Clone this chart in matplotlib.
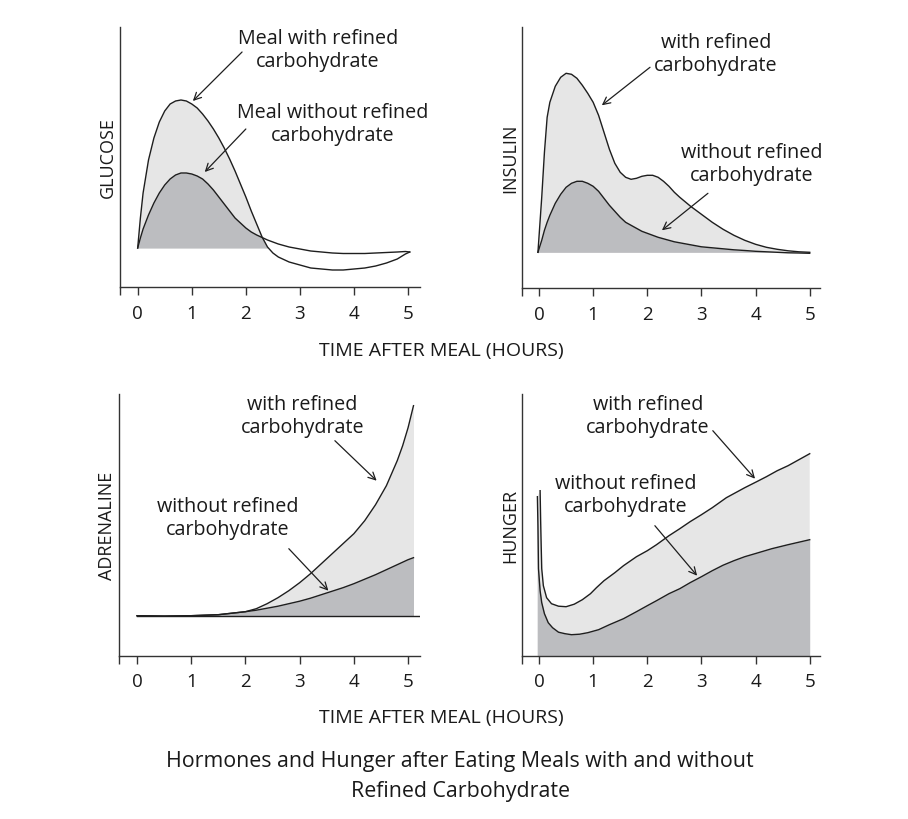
import numpy as np
import matplotlib
matplotlib.use('Agg')
import matplotlib.pyplot as plt

plt.rcParams['font.family'] = ['Open Sans', 'DejaVu Sans']

# ---------------- data (hours, arbitrary units) ----------------
glu_t = [0, 0.05, 0.1, 0.2, 0.3, 0.4, 0.5, 0.6, 0.7, 0.8, 0.9, 1.0, 1.1, 1.2, 1.3,
         1.4, 1.5, 1.6, 1.7, 1.8, 1.9, 2.0, 2.1, 2.2, 2.3, 2.4, 2.5, 2.6, 2.8,
         3.0, 3.2, 3.4, 3.6, 3.8, 4.0, 4.2, 4.4, 4.6, 4.8, 4.95, 5.03]
glu_refined = [0, 30, 55, 88, 110, 126, 137, 144, 147, 148, 147, 144, 140, 134, 127,
               119, 110, 100, 89, 77, 64, 51, 37, 24, 11, 1, -5, -9, -14,
               -17, -20, -21, -22, -22, -21, -20, -18, -15, -11, -6, -4]
glu_plain = [0, 10, 19, 33, 45, 55, 63, 69, 73, 75, 75, 74, 72, 69, 64,
             58, 51, 44, 37, 30, 25, 20, 16, 13, 10.5, 8, 6, 4, 1,
             -1, -3, -4, -5, -5.5, -5.5, -5.5, -5, -4.5, -4, -3.5, -4]

ins_t = [-0.02, 0.05, 0.1, 0.15, 0.2, 0.3, 0.4, 0.5, 0.6, 0.7, 0.8, 0.9, 1.0, 1.1,
         1.2, 1.3, 1.4, 1.5, 1.6, 1.7, 1.8, 1.9, 2.0, 2.1, 2.2, 2.3, 2.4, 2.5, 2.6,
         2.8, 3.0, 3.2, 3.4, 3.6, 3.8, 4.0, 4.2, 4.4, 4.6, 4.8, 5.0]
ins_refined = [0, 55, 100, 135, 150, 166, 175, 179, 178, 174, 167, 159, 150, 137,
               120, 103, 89, 80, 75, 73, 74, 76, 77, 77, 75, 71, 66, 60, 55,
               46, 38, 30, 23, 17, 12, 8, 5, 3, 1.5, 0.5, 0]
ins_plain = [0, 12, 22, 30, 37, 49, 58, 65, 69, 71, 71, 69, 66, 61,
             54, 47, 41, 35, 30, 27, 24, 21, 19, 17, 15, 13.5, 12, 10.5, 9.5,
             7.5, 5.5, 4.5, 3.5, 2.5, 1.8, 1, 0.5, 0, -0.5, -0.7, -1]

adr_t = [0, 0.5, 1.0, 1.5, 2.0, 2.2, 2.4, 2.6, 2.8, 3.0, 3.2, 3.4, 3.6, 3.8,
         4.0, 4.2, 4.4, 4.6, 4.8, 4.9, 5.0, 5.1]
adr_refined = [0, -0.5, 0, 1, 4, 7, 12, 18, 25, 33, 42, 52, 62, 72,
               82, 95, 111, 130, 155, 170, 188, 210]
adr_plain = [0, -0.3, 0, 1, 4, 5.5, 7.5, 9.5, 12, 14.5, 17.5, 21, 24.5, 28,
             32, 36.5, 41, 46, 51, 53.5, 56, 58]

hun_refined_t = [0.02, 0.03, 0.04, 0.05, 0.08, 0.14, 0.23, 0.36, 0.5, 0.65, 0.8, 0.95,
                 1.06, 1.2, 1.4, 1.56, 1.8, 2.0, 2.17, 2.4, 2.6, 2.79, 3.0, 3.2, 3.46,
                 3.8, 4.02, 4.2, 4.4, 4.6, 4.8, 5.0]
hun_refined = [165, 135, 110, 87, 70, 58, 52, 49.5, 49, 51.5, 56, 62,
               68, 75, 83, 90, 99, 105, 111, 120, 127, 134, 141, 148, 158,
               168, 174, 179, 185, 190, 196, 202]
hun_plain_t = [-0.03, -0.02, -0.01, 0.02, 0.05, 0.1, 0.17, 0.25, 0.36, 0.48, 0.6, 0.75,
               0.9, 1.1, 1.3, 1.56, 1.8, 2.0, 2.17, 2.4, 2.6, 2.79, 3.0, 3.2, 3.4,
               3.6, 3.8, 4.02, 4.3, 4.6, 5.0]
hun_plain = [159, 130, 87, 65, 53, 42, 33, 28, 23.5, 22, 21, 21.5,
             23, 26, 31, 37, 44, 50, 55, 62, 67, 73, 79, 85, 90.5,
             95, 99, 102.5, 107, 111, 116]

x_ticks = [0, 1, 2, 3, 4, 5]
y_labels = ['GLUCOSE', 'INSULIN', 'ADRENALINE', 'HUNGER']
x_label = 'TIME AFTER MEAL (HOURS)'
title = 'Hormones and Hunger after Eating Meals with and without\nRefined Carbohydrate'
lbl_with = 'with refined\ncarbohydrate'
lbl_without = 'without refined\ncarbohydrate'

LIGHT = '#e6e6e6'
DARK = '#bcbdc0'
LINE = '#1e1e1e'
TXT = '#1a1a1a'

W, H = 908, 820
fig = plt.figure(figsize=(W / 100, H / 100), dpi=100)


def add_ax(left, top, right, bottom):
    return fig.add_axes([left / W, 1 - bottom / H, (right - left) / W, (bottom - top) / H])


def style(ax, xlim, ylim, ylabel):
    ax.set_xlim(*xlim)
    ax.set_ylim(*ylim)
    for s in ['top', 'right']:
        ax.spines[s].set_visible(False)
    for s in ['left', 'bottom']:
        ax.spines[s].set_color('#333333')
        ax.spines[s].set_linewidth(1.0)
    ax.set_yticks([])
    ax.set_xticks(x_ticks)
    ax.set_xticks([xlim[0]], minor=True)
    ax.tick_params(axis='x', which='both', direction='out', length=6, width=1.0,
                   color='#333333', labelsize=13.5, pad=6, labelcolor=TXT)
    ax.text(-0.04, 0.5, ylabel, transform=ax.transAxes, rotation=90,
            ha='center', va='center', fontsize=13, color=TXT)
    ax.patch.set_alpha(0)


def note(ax, text, pos, start, tip):
    ax.text(pos[0], pos[1], text, ha='center', va='center', fontsize=14.2,
            color=TXT, linespacing=1.2, multialignment='center')
    ax.annotate('', xy=tip, xytext=start,
                arrowprops=dict(arrowstyle='->', lw=0.9, color=LINE,
                                shrinkA=0, shrinkB=0, mutation_scale=13))


# ---------------- Glucose ----------------
ax1 = add_ax(120, 28, 420, 288)
gt = np.array(glu_t); gr = np.array(glu_refined); gp = np.array(glu_plain)
ax1.fill_between(gt, gr, 0, where=gr >= 0, interpolate=True, color=LIGHT, lw=0)
gmin = np.minimum(gr, gp)
ax1.fill_between(gt, gmin, 0, where=gmin >= 0, interpolate=True, color=DARK, lw=0)
ax1.plot(gt, gr, color=LINE, lw=1.0)
ax1.plot(gt, gp, color=LINE, lw=1.0)
style(ax1, (-0.327, 5.22), (-39, 221), y_labels[0])
note(ax1, 'Meal with refined\ncarbohydrate', (3.33, 198.5), (1.93, 196), (1.02, 147))
note(ax1, 'Meal without refined\ncarbohydrate', (3.61, 124), (2.0, 119), (1.24, 76))

# ---------------- Insulin ----------------
ax2 = add_ax(521.7, 28, 820, 289)
it = np.array(ins_t); ir = np.array(ins_refined); ip = np.array(ins_plain)
ax2.fill_between(it, ir, 0, where=ir >= 0, interpolate=True, color=LIGHT, lw=0)
ax2.fill_between(it, ip, 0, where=ip >= 0, interpolate=True, color=DARK, lw=0)
ax2.plot(it, ir, color=LINE, lw=1.0)
ax2.plot(it, ip, color=LINE, lw=1.0)
style(ax2, (-0.32, 5.19), (-35.7, 225.3), y_labels[1])
note(ax2, lbl_with, (3.27, 199), (2.05, 185), (1.16, 147))
note(ax2, lbl_without, (3.93, 89), (3.12, 59), (2.27, 22))

# ---------------- Adrenaline ----------------
ax3 = add_ax(119.3, 395, 420, 656.7)
at = np.array(adr_t); ar = np.array(adr_refined); ap = np.array(adr_plain)
ax3.fill_between(at, ar, 0, color=LIGHT, lw=0)
ax3.fill_between(at, ap, 0, color=DARK, lw=0)
ax3.plot(at, ar, color=LINE, lw=1.0)
ax3.plot(at, ap, color=LINE, lw=1.0)
ax3.axhline(0, xmin=(0 + 0.327) / (5.22 + 0.327), xmax=1, color=LINE, lw=1.0)
style(ax3, (-0.327, 5.22), (-40, 221.7), y_labels[2])
note(ax3, lbl_with, (3.05, 200), (3.65, 175), (4.42, 135))
note(ax3, lbl_without, (1.67, 98), (2.80, 67), (3.53, 25))

# ---------------- Hunger ----------------
ax4 = add_ax(521.7, 395, 820, 656.7)
hrt = np.array(hun_refined_t); hr = np.array(hun_refined)
hpt = np.array(hun_plain_t); hp = np.array(hun_plain)
poly_x = np.concatenate([[hpt[0], hpt[0]], hrt, [hrt[-1]]])
poly_y = np.concatenate([[0, hp[0]], hr, [0]])
ax4.fill(poly_x, poly_y, color=LIGHT, lw=0)
ax4.fill_between(hpt, hp, 0, color=DARK, lw=0)
ax4.plot(hrt, hr, color=LINE, lw=1.0)
ax4.plot(hpt, hp, color=LINE, lw=1.0)
style(ax4, (-0.32, 5.19), (0, 261.7), y_labels[3])
note(ax4, lbl_with, (2.01, 240), (3.21, 225), (3.99, 177))
note(ax4, lbl_without, (1.61, 161), (2.14, 130), (2.92, 80))

# ---------------- shared labels ----------------
fig.text(441 / W, 1 - 351 / H, x_label, ha='center', va='center', fontsize=14, color=TXT)
fig.text(441 / W, 1 - 718 / H, x_label, ha='center', va='center', fontsize=14, color=TXT)
fig.text(460 / W, 1 - 776.5 / H, title, ha='center', va='center', fontsize=15.4,
         color=TXT, linespacing=1.62)

fig.savefig('out.png', dpi=100, facecolor='white')
